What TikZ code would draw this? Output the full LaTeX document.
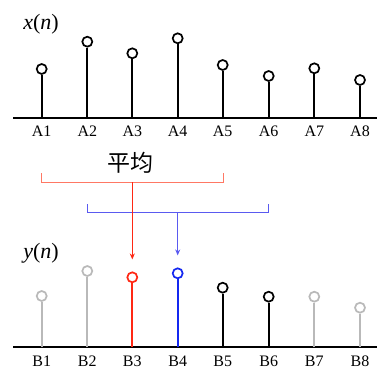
\documentclass[tikz,border=0pt]{standalone}
\usepackage{fontspec}
\setmainfont{Liberation Serif}
\newfontfamily\cjkfont{Noto Sans CJK SC}
\usepackage{tikz}
\usetikzlibrary{arrows.meta,positioning,calc}
\definecolor{stemred}{RGB}{255,40,20}
\definecolor{stemblue}{RGB}{20,40,240}
\definecolor{brred}{RGB}{255,120,100}
\definecolor{brblue}{RGB}{90,90,240}
\definecolor{stemgray}{RGB}{185,185,185}
\tikzset{
  axisln/.style={line width=1.8pt},
  stem/.style={line width=1.7pt},
  tip/.style={circle,draw,fill=white,line width=1.7pt,minimum size=10pt,inner sep=0pt},
  lbl/.style={font=\fontsize{16}{18}\selectfont,inner sep=0pt},
  ttl/.style={font=\fontsize{22}{24}\selectfont,inner sep=0pt},
  brk/.style={line width=0.9pt},
  feed/.style={-{Stealth[length=6pt,width=5pt]},line width=1pt}
}
\begin{document}
\begin{tikzpicture}[x=1pt,y=-1pt]
  \useasboundingbox (0,0) rectangle (377,369);
  % ---- input sequence x(n) ----
  \node[ttl] (xn) at (41,24) {\textit{x}(\textit{n})};
  \draw[axisln] (13,118) -- (377,118);
  \foreach \i/\px/\py in {1/41.7/69, 2/87.3/41.7, 3/132.3/53.3, 4/177.7/38.3,
                          5/222.7/65, 6/268.7/76, 7/314.3/68.3, 8/360/80} {
    \coordinate (ax\i) at (\px,118);
    \node[tip] (a\i) at (\px,\py) {};
    \draw[stem] (ax\i) -- (a\i.south);
    \node[lbl] (la\i) at (\px,131) {A\i};
  }
  % ---- averaging windows ----
  \node[font=\cjkfont\fontsize{23}{25}\selectfont,inner sep=0pt] (avg) at (130,163) {平均};
  \coordinate (rl) at (41.7,173);
  \coordinate (rr) at (223.3,173);
  \coordinate (rm) at (132.3,182.3);
  \draw[brk,brred] (rl) |- (rr |- rm) -- (rr);
  \coordinate (bl) at (87.3,204);
  \coordinate (br) at (268.7,204);
  \coordinate (bm) at (177.7,212.7);
  \draw[brk,brblue] (bl) |- (br |- bm) -- (br);
  % ---- output sequence y(n) ----
  \node[ttl] (yn) at (41,253) {\textit{y}(\textit{n})};
  \draw[axisln] (13,347.3) -- (377,347.3);
  \foreach \i/\px/\py/\c in {1/41.7/296/stemgray, 2/87.3/271/stemgray,
                             3/132.3/277.3/stemred, 4/177.7/273.3/stemblue,
                             5/222.7/287.7/black, 6/268.7/296.7/black,
                             7/314.3/296.7/stemgray, 8/360/307.7/stemgray} {
    \coordinate (bx\i) at (\px,347.3);
    \node[tip,draw=\c] (b\i) at (\px,\py) {};
    \draw[stem,\c] (bx\i) -- (b\i.south);
    \node[lbl] (lb\i) at (\px,361.7) {B\i};
  }
  % feed lines from windows to outputs
  \draw[feed,stemred] (rm) -- ([yshift=12pt]b3.north);
  \draw[feed,brblue] (bm) -- ([yshift=12pt]b4.north);
\end{tikzpicture}
\end{document}
